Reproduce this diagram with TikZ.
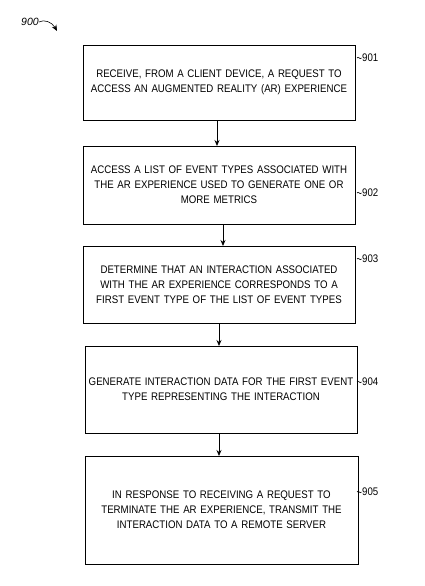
\documentclass[tikz,border=0pt]{standalone}
\usepackage{fontspec}
\setmainfont{Liberation Sans}
\newfontfamily\narrowfont[FakeStretch=0.88]{Liberation Sans}
\usetikzlibrary{arrows.meta}
\begin{document}
\begin{tikzpicture}[x=1pt,y=-1pt,
  stepbox/.style={draw,line width=0.8pt,align=center,font=\narrowfont\fontsize{11}{15}\selectfont,inner sep=0pt,outer sep=0pt,text width=266pt},
  arr/.style={-{Stealth[length=6pt,width=5pt]},line width=0.8pt},
  reflabel/.style={font=\narrowfont\fontsize{11}{13}\selectfont,anchor=west,inner sep=0pt},
  squig/.style={line width=0.6pt}]
\useasboundingbox (0,0) rectangle (424,586);
\node[stepbox,minimum width=272pt,minimum height=75pt] (b1) at (219,82.5) {RECEIVE, FROM A CLIENT DEVICE, A REQUEST TO\\ACCESS AN AUGMENTED REALITY (AR) EXPERIENCE};
\node[stepbox,minimum width=272pt,minimum height=78pt] (b2) at (219,185) {ACCESS A LIST OF EVENT TYPES ASSOCIATED WITH\\THE AR EXPERIENCE USED TO GENERATE ONE OR\\MORE METRICS};
\node[stepbox,minimum width=272pt,minimum height=77pt] (b3) at (219,284.5) {DETERMINE THAT AN INTERACTION ASSOCIATED\\WITH THE AR EXPERIENCE CORRESPONDS TO A\\FIRST EVENT TYPE OF THE LIST OF EVENT TYPES};
\node[stepbox,minimum width=272pt,minimum height=87pt] (b4) at (221,389.5) {GENERATE INTERACTION DATA FOR THE FIRST EVENT\\TYPE REPRESENTING THE INTERACTION};
\node[stepbox,minimum width=273pt,minimum height=108pt] (b5) at (221.5,510) {IN RESPONSE TO RECEIVING A REQUEST TO\\TERMINATE THE AR EXPERIENCE, TRANSMIT THE\\INTERACTION DATA TO A REMOTE SERVER};
\draw[arr] (b1.south -| 217,0) -- (b2.north -| 217,0);
\draw[arr] (b2.south -| 223,0) -- (b3.north -| 223,0);
\draw[arr] (b3.south -| 219,0) -- (b4.north -| 219,0);
\draw[arr] (b4.south -| 219,0) -- (b5.north -| 219,0);
\node[reflabel] (l1) at (362,58) {901};
\node[reflabel] (l2) at (362,193) {902};
\node[reflabel] (l3) at (362,259) {903};
\node[reflabel] (l4) at (362,382) {904};
\node[reflabel] (l5) at (362,492) {905};
\foreach \n in {1,...,5}{
  \draw[squig] ([xshift=-5pt]l\n.west) .. controls ++(1.5,-2.5) and ++(-1.5,2.5) .. ([xshift=-0.5pt]l\n.west);
}
\node[font=\itshape\fontsize{10.5}{12}\selectfont,inner sep=0pt] (n900) at (30,22) {900};
\coordinate (t900) at (57,31);
\draw[arr,line width=0.6pt] (n900.east) .. controls (44,19) and (52,22) .. (t900);
\end{tikzpicture}
\end{document}
